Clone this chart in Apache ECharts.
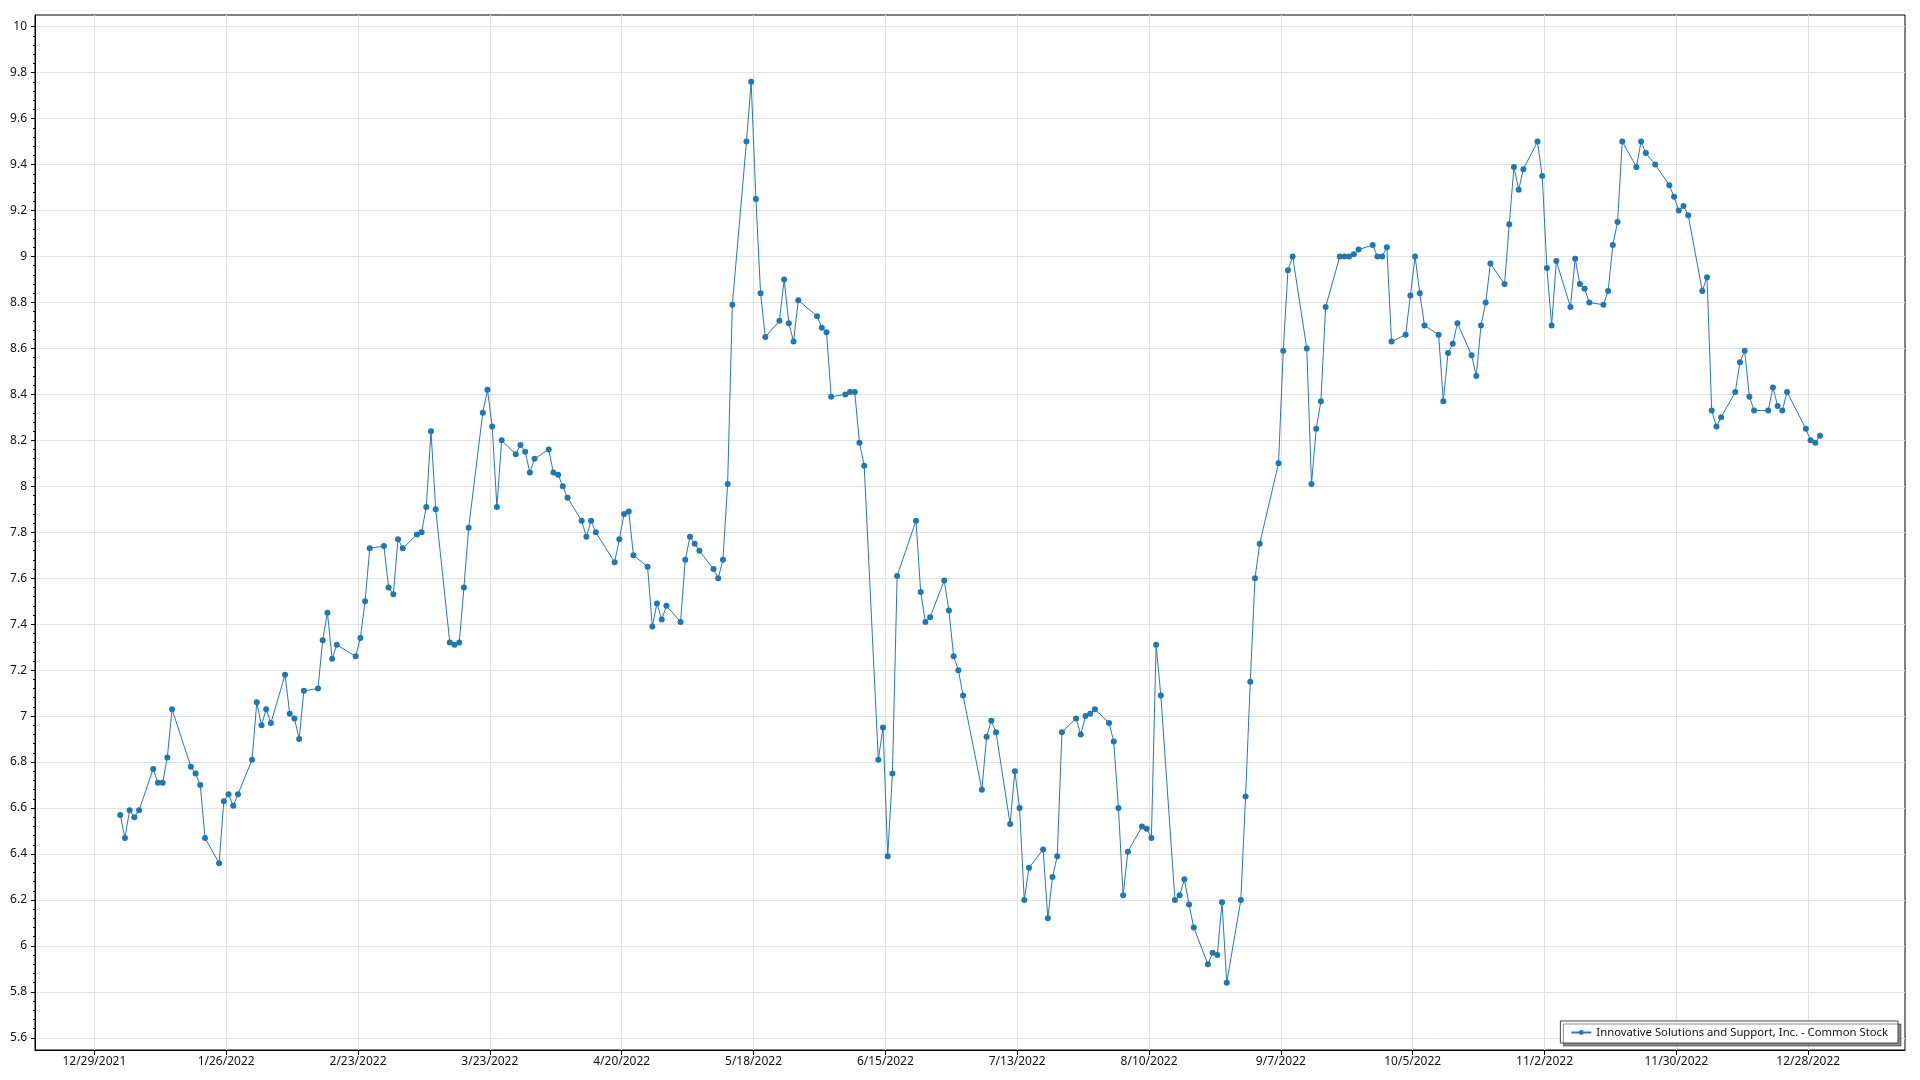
<!DOCTYPE html>
<html><head><meta charset="utf-8">
<script src="https://cdn.jsdelivr.net/npm/echarts@6/dist/echarts.min.js"></script>
<style>html,body{margin:0;padding:0;background:#fff}#c{width:1920px;height:1080px}</style>
</head><body><div id="c"></div>
<script>
const seriesName = 'Innovative Solutions and Support, Inc. - Common Stock';

const dates = [
'2022-01-03','2022-01-04','2022-01-05','2022-01-06','2022-01-07','2022-01-10','2022-01-11','2022-01-12','2022-01-13','2022-01-14',
'2022-01-18','2022-01-19','2022-01-20','2022-01-21','2022-01-24','2022-01-25','2022-01-26','2022-01-27','2022-01-28','2022-01-31',
'2022-02-01','2022-02-02','2022-02-03','2022-02-04','2022-02-07','2022-02-08','2022-02-09','2022-02-10','2022-02-11','2022-02-14',
'2022-02-15','2022-02-16','2022-02-17','2022-02-18','2022-02-22','2022-02-23','2022-02-24','2022-02-25','2022-02-28',
'2022-03-01','2022-03-02','2022-03-03','2022-03-04','2022-03-07','2022-03-08','2022-03-09','2022-03-10','2022-03-11','2022-03-14',
'2022-03-15','2022-03-16','2022-03-17','2022-03-18','2022-03-21','2022-03-22','2022-03-23','2022-03-24','2022-03-25','2022-03-28',
'2022-03-29','2022-03-30','2022-03-31',
'2022-04-01','2022-04-04','2022-04-05','2022-04-06','2022-04-07','2022-04-08','2022-04-11','2022-04-12','2022-04-13','2022-04-14',
'2022-04-18','2022-04-19','2022-04-20','2022-04-21','2022-04-22','2022-04-25','2022-04-26','2022-04-27','2022-04-28','2022-04-29',
'2022-05-02','2022-05-03','2022-05-04','2022-05-05','2022-05-06','2022-05-09','2022-05-10','2022-05-11','2022-05-12','2022-05-13',
'2022-05-16','2022-05-17','2022-05-18','2022-05-19','2022-05-20','2022-05-23','2022-05-24','2022-05-25','2022-05-26','2022-05-27',
'2022-05-31',
'2022-06-01','2022-06-02','2022-06-03','2022-06-06','2022-06-07','2022-06-08','2022-06-09','2022-06-10','2022-06-13','2022-06-14',
'2022-06-15','2022-06-16','2022-06-17','2022-06-21','2022-06-22','2022-06-23','2022-06-24','2022-06-27','2022-06-28','2022-06-29',
'2022-06-30',
'2022-07-01','2022-07-05','2022-07-06','2022-07-07','2022-07-08','2022-07-11','2022-07-12','2022-07-13','2022-07-14','2022-07-15',
'2022-07-18','2022-07-19','2022-07-20','2022-07-21','2022-07-22','2022-07-25','2022-07-26','2022-07-27','2022-07-28','2022-07-29',
'2022-08-01','2022-08-02','2022-08-03','2022-08-04','2022-08-05','2022-08-08','2022-08-09','2022-08-10','2022-08-11','2022-08-12',
'2022-08-15','2022-08-16','2022-08-17','2022-08-18','2022-08-19','2022-08-22','2022-08-23','2022-08-24','2022-08-25','2022-08-26',
'2022-08-29','2022-08-30','2022-08-31',
'2022-09-01','2022-09-02','2022-09-06','2022-09-07','2022-09-08','2022-09-09','2022-09-12','2022-09-13','2022-09-14','2022-09-15',
'2022-09-16','2022-09-19','2022-09-20','2022-09-21','2022-09-22','2022-09-23','2022-09-26','2022-09-27','2022-09-28','2022-09-29',
'2022-09-30',
'2022-10-03','2022-10-04','2022-10-05','2022-10-06','2022-10-07','2022-10-10','2022-10-11','2022-10-12','2022-10-13','2022-10-14',
'2022-10-17','2022-10-18','2022-10-19','2022-10-20','2022-10-21','2022-10-24','2022-10-25','2022-10-26','2022-10-27','2022-10-28',
'2022-10-31',
'2022-11-01','2022-11-02','2022-11-03','2022-11-04','2022-11-07','2022-11-08','2022-11-09','2022-11-10','2022-11-11','2022-11-14',
'2022-11-15','2022-11-16','2022-11-17','2022-11-18','2022-11-21','2022-11-22','2022-11-23','2022-11-25','2022-11-28','2022-11-29',
'2022-11-30',
'2022-12-01','2022-12-02','2022-12-05','2022-12-06','2022-12-07','2022-12-08','2022-12-09','2022-12-12','2022-12-13','2022-12-14',
'2022-12-15','2022-12-16','2022-12-19','2022-12-20','2022-12-21','2022-12-22','2022-12-23','2022-12-27','2022-12-28','2022-12-29',
'2022-12-30'
];

const prices = [
6.57,6.47,6.59,6.56,6.59,6.77,6.71,6.71,6.82,7.03,
6.78,6.75,6.70,6.47,6.36,6.63,6.66,6.61,6.66,6.81,
7.06,6.96,7.03,6.97,7.18,7.01,6.99,6.90,7.11,7.12,
7.33,7.45,7.25,7.31,7.26,7.34,7.50,7.73,7.74,
7.56,7.53,7.77,7.73,7.79,7.80,7.91,8.24,7.90,7.32,
7.31,7.32,7.56,7.82,8.32,8.42,8.26,7.91,8.20,8.14,
8.18,8.15,8.06,
8.12,8.16,8.06,8.05,8.00,7.95,7.85,7.78,7.85,7.80,
7.67,7.77,7.88,7.89,7.70,7.65,7.39,7.49,7.42,7.48,
7.41,7.68,7.78,7.75,7.72,7.64,7.60,7.68,8.01,8.79,
9.50,9.76,9.25,8.84,8.65,8.72,8.90,8.71,8.63,8.81,
8.74,
8.69,8.67,8.39,8.40,8.41,8.41,8.19,8.09,6.81,6.95,
6.39,6.75,7.61,7.85,7.54,7.41,7.43,7.59,7.46,7.26,
7.20,
7.09,6.68,6.91,6.98,6.93,6.53,6.76,6.60,6.20,6.34,
6.42,6.12,6.30,6.39,6.93,6.99,6.92,7.00,7.01,7.03,
6.97,6.89,6.60,6.22,6.41,6.52,6.51,6.47,7.31,7.09,
6.20,6.22,6.29,6.18,6.08,5.92,5.97,5.96,6.19,5.84,
6.20,6.65,7.15,
7.60,7.75,8.10,8.59,8.94,9.00,8.60,8.01,8.25,8.37,
8.78,9.00,9.00,9.00,9.01,9.03,9.05,9.00,9.00,9.04,
8.63,
8.66,8.83,9.00,8.84,8.70,8.66,8.37,8.58,8.62,8.71,
8.57,8.48,8.70,8.80,8.97,8.88,9.14,9.39,9.29,9.38,
9.50,
9.35,8.95,8.70,8.98,8.78,8.99,8.88,8.86,8.80,8.79,
8.85,9.05,9.15,9.50,9.39,9.50,9.45,9.40,9.31,9.26,
9.20,
9.22,9.18,8.85,8.91,8.33,8.26,8.30,8.41,8.54,8.59,
8.39,8.33,8.33,8.43,8.35,8.33,8.41,8.25,8.20,8.19,
8.22
];

const xTickLabels = ['12/29/2021','1/26/2022','2/23/2022','3/23/2022','4/20/2022','5/18/2022','6/15/2022',
  '7/13/2022','8/10/2022','9/7/2022','10/5/2022','11/2/2022','11/30/2022','12/28/2022'];
const yTickLabels = ['5.6','5.8','6','6.2','6.4','6.6','6.8','7','7.2','7.4','7.6','7.8','8','8.2','8.4','8.6','8.8','9','9.2','9.4','9.6','9.8','10'];

const BASE = Date.UTC(2021, 11, 29);
function dayFromParts(y, m, d) { return (Date.UTC(y, m - 1, d) - BASE) / 86400000; }
function dayFromIso(s) { const p = s.split('-').map(Number); return dayFromParts(p[0], p[1], p[2]); }
function dayFromUs(s) { const p = s.split('/').map(Number); return dayFromParts(p[2], p[0], p[1]); }

// points are stamped at midday of their trading date
const seriesData = dates.map((d, i) => [dayFromIso(d) + 0.5, prices[i]]);
const xTickDays = xTickLabels.map(dayFromUs);
const yTickValues = yTickLabels.map(Number);
const yMinorValues = [];
for (let i = 0; i < yTickValues.length - 1; i++) {
  for (let k = 1; k < 5; k++) yMinorValues.push(+(yTickValues[i] + k * 0.04).toFixed(2));
}

const FONT = 'Noto Sans';
const X_MIN = -12.6, X_MAX = 384.55, Y_MIN = 5.547, Y_MAX = 10.051;

const chart = echarts.init(document.getElementById('c'), null, {renderer: 'canvas'});
chart.setOption({
  animation: false,
  backgroundColor: '#fff',
  grid: {left: 35, right: 15, top: 15, bottom: 30, show: true, borderColor: '#000', borderWidth: 1, backgroundColor: 'transparent'},
  legend: {
    data: [seriesName], right: 22, bottom: 37, padding: [6, 10, 5, 10],
    backgroundColor: '#fff', borderColor: '#444', borderWidth: 1,
    shadowColor: 'rgba(0,0,0,0.45)', shadowOffsetX: 3, shadowOffsetY: 3, shadowBlur: 0,
    itemWidth: 20, itemHeight: 6, itemGap: 6,
    textStyle: {fontFamily: FONT, fontSize: 11.3, color: '#111'}
  },
  xAxis: {
    type: 'value', min: X_MIN, max: X_MAX,
    axisLine: {show: true, onZero: false, lineStyle: {color: '#000', width: 1}},
    axisTick: {show: true, customValues: xTickDays, length: 5, lineStyle: {color: '#000'}},
    axisLabel: {customValues: xTickDays, margin: 6, fontFamily: FONT, fontSize: 12, color: '#111',
      formatter: v => { const i = xTickDays.findIndex(t => Math.abs(t - v) < 0.01); return i >= 0 ? xTickLabels[i] : ''; }},
    splitLine: {show: true, lineStyle: {color: '#e2e2e2', width: 1}}
  },
  yAxis: [{
    type: 'value', min: Y_MIN, max: Y_MAX, position: 'left',
    axisLine: {show: true, onZero: false, lineStyle: {color: '#000', width: 1}},
    axisTick: {show: true, customValues: yTickValues, length: 4, lineStyle: {color: '#000'}},
    axisLabel: {customValues: yTickValues, margin: 8, fontFamily: FONT, fontSize: 12, color: '#111',
      formatter: v => { const i = yTickValues.findIndex(t => Math.abs(t - v) < 1e-6); return i >= 0 ? yTickLabels[i] : ''; }},
    splitLine: {show: true, lineStyle: {color: '#e2e2e2', width: 1}}
  }, {
    type: 'value', min: Y_MIN, max: Y_MAX, position: 'left',
    axisLine: {show: false, onZero: false},
    axisTick: {show: true, customValues: yMinorValues, length: 2, lineStyle: {color: '#000'}},
    axisLabel: {show: false},
    splitLine: {show: false}
  }],
  series: [{
    name: seriesName, type: 'line', xAxisIndex: 0, yAxisIndex: 0,
    data: seriesData,
    symbol: 'circle', symbolSize: 6, showSymbol: true, showAllSymbol: true,
    lineStyle: {color: '#2878b8', width: 1},
    itemStyle: {color: '#1f77b4'},
    emphasis: {disabled: true}
  }]
});
</script></body></html>
